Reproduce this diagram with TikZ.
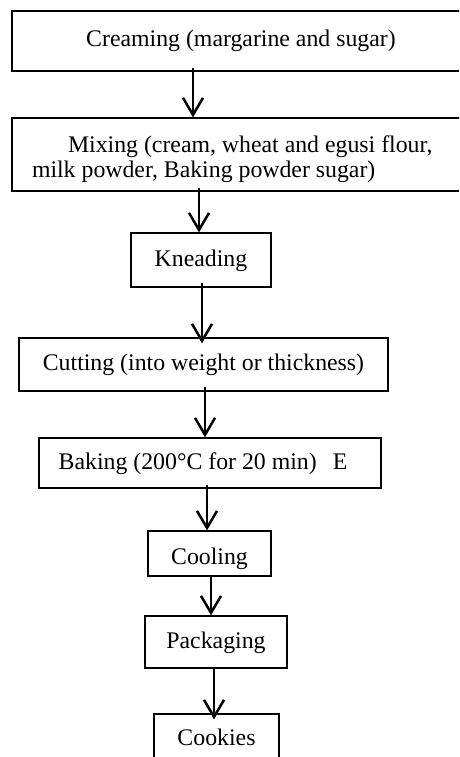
\documentclass[tikz,border=0pt]{standalone}
\usepackage{fontspec}
\setmainfont{Liberation Serif}
\usetikzlibrary{arrows.meta}

\tikzset{
  box/.style={draw, line width=1.3pt, inner sep=0pt},
  stage/.style={box, text height=17pt, text depth=5pt},
  flow/.style={line width=2.5pt, -{Straight Barb[length=17pt,width=20pt]}}
}

\begin{document}
\begin{tikzpicture}[x=1pt,y=1pt,yscale=-1,xscale=1,font=\fontsize{23.8}{25}\selectfont]
    \useasboundingbox (0,0) rectangle (459,757);
    \clip (0,0) rectangle (459,757);

    %Shape: Rectangle [creaming]
    \node[stage, minimum width=458pt, minimum height=60pt] (crm) at (241,41) {Creaming (margarine and sugar)};
    %Shape: Rectangle [mixing]
    \node[box, minimum width=458pt, minimum height=73pt, text width=418pt, align=flush left] (mix) at (241,154.5) {\rule{0pt}{26pt}\hspace*{36pt}Mixing (cream, wheat and egusi flour,\\milk powder, Baking powder sugar)};
    %Shape: Rectangle [kneading]
    \node[stage, minimum width=140pt, minimum height=54pt] (knd) at (201,260) {Kneading};
    %Shape: Rectangle [cutting]
    \node[stage, minimum width=369pt, minimum height=53pt] (cut) at (203.5,364.5) {Cutting (into weight or thickness)};
    %Shape: Rectangle [baking]
    \node[stage, minimum width=342pt, minimum height=50pt] (bak) at (210,463) {Baking (200°C for 20 min)\hspace{16pt}E\hspace*{14pt}};
    %Shape: Rectangle [cooling]
    \node[stage, text height=26pt, minimum width=123pt, minimum height=45pt] (col) at (209.5,553.5) {Cooling};
    %Shape: Rectangle [packaging]
    \node[stage, minimum width=142pt, minimum height=52pt] (pkg) at (216,642) {Packaging};
    %Shape: Rectangle [cookies]
    \node[stage, minimum width=125pt, minimum height=50pt] (ck) at (216.5,739) {Cookies};

    %Straight Lines [arrows]
    \draw[flow] ([xshift=-48pt,yshift=-4pt]crm.south) -- ([xshift=-48pt]mix.north);
    \draw[flow] ([xshift=-42pt,yshift=-4pt]mix.south) -- ([xshift=-2pt]knd.north);
    \draw[flow] ([xshift=1pt,yshift=-5pt]knd.south) -- ([xshift=-1.5pt,yshift=6pt]cut.north);
    \draw[flow] ([xshift=1.5pt,yshift=-5pt]cut.south) -- ([xshift=-5pt]bak.north);
    \draw[flow] ([xshift=-3pt,yshift=-4pt]bak.south) -- ([xshift=-2.5pt]col.north);
    \draw[flow] ([xshift=1.5pt]col.south) -- ([xshift=-5pt]pkg.north);
    \draw[flow] ([xshift=-2pt]pkg.south) -- ([xshift=-2.5pt,yshift=6pt]ck.north);

\end{tikzpicture}
\end{document}
